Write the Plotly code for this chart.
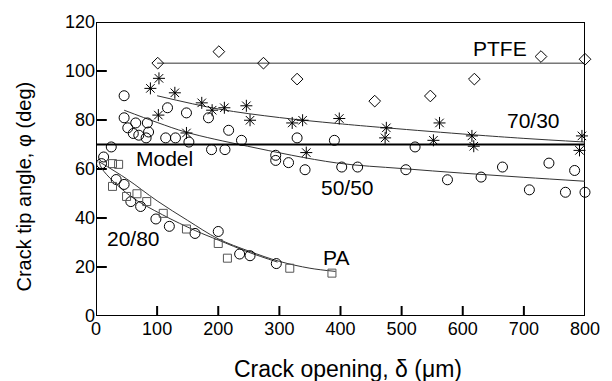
import plotly.graph_objects as go

# ---------------- data ----------------
ptfe_x = [101, 201, 274, 329, 456, 547, 619, 728, 800]
ptfe_y = [103.2, 107.9, 103.2, 96.7, 87.7, 89.8, 96.7, 105.9, 104.8]
ptfe_fit_x = [100, 800]
ptfe_fit_y = [103.2, 103.2]

r7030_x = [89, 103, 102, 129, 148, 173, 190, 210, 246, 252, 321, 338, 344, 398,
           475, 473, 562, 552, 615, 618, 795, 791]
r7030_y = [92.9, 97.0, 82.0, 91.1, 74.7, 87.0, 84.0, 85.0, 85.8, 79.9, 78.8, 79.9,
           66.7, 80.6, 76.8, 72.7, 78.8, 71.7, 73.5, 69.3, 73.5, 67.6]
r7030_fit_x = [100, 200, 300, 393, 475, 615, 700, 800]
r7030_fit_y = [89.9, 84.5, 81.0, 78.6, 76.8, 74.0, 72.5, 71.0]

r5050_x = [46, 25, 12.5, 46, 52, 65, 61, 70, 84, 86, 82, 117, 114, 130, 148, 152,
           184, 189, 211, 217, 238, 294, 294, 315, 342, 329, 390, 402, 428,
           522, 507, 575, 630, 665, 709, 741, 768, 783, 800]
r5050_y = [89.9, 69.0, 64.9, 80.9, 76.8, 78.8, 74.5, 73.8, 78.8, 75.1, 72.7, 85.0,
           72.7, 72.7, 82.9, 71.0, 80.9, 67.9, 67.9, 75.8, 71.7, 65.6, 63.5, 62.6,
           59.7, 72.7, 71.7, 60.8, 60.8, 69.0, 59.7, 55.6, 56.7, 60.8, 51.5, 62.4,
           50.5, 59.4, 50.5]
r5050_fit_x = [46, 100, 148, 248, 393, 500, 600, 700, 800]
r5050_fit_y = [84.0, 79.0, 75.0, 69.3, 62.5, 60.2, 58.3, 56.6, 55.0]

model_x = [0, 800]
model_y = [70, 70]

r2080_x = [9, 33, 46, 57, 73, 98, 120, 162, 200, 235, 252, 295]
r2080_y = [62.2, 55.7, 53.7, 46.7, 44.7, 39.6, 36.6, 33.7, 34.5, 25.3, 24.6, 21.4]
r2080_fit_x = [5, 10, 55, 109, 163, 200, 250, 297]
r2080_fit_y = [63.0, 60.0, 49.2, 41.3, 34.8, 31.0, 26.0, 22.0]

pa_x = [27, 37, 27, 50, 67, 83, 110, 148, 200, 215, 317, 386]
pa_y = [62.2, 61.9, 52.9, 48.8, 49.9, 46.7, 41.9, 35.5, 29.6, 23.6, 19.5, 17.5]
pa_fit_x = [5, 50, 100, 150, 200, 250, 300, 350, 392]
pa_fit_y = [63.0, 56.0, 47.0, 39.0, 31.5, 26.5, 22.3, 19.5, 18.2]

labels = ["PTFE", "70/30", "Model", "50/50", "20/80", "PA"]
label_x = [661, 716, 112, 411, 61, 393]
label_y = [109.0, 80.0, 64.2, 52.6, 31.8, 23.9]

x_range = [0, 800]
y_range = [0, 120]
x_ticks = [0, 100, 200, 300, 400, 500, 600, 700, 800]
y_ticks = [0, 20, 40, 60, 80, 100, 120]

# ---------------- figure ----------------
FONT = "Liberation Sans, Arial, Helvetica, sans-serif"
W, H = 612, 381
M = dict(l=96, r=18, t=22, b=65)
plot_w = W - M["l"] - M["r"]
plot_h = H - M["t"] - M["b"]

fig = go.Figure()

def fit(x, y, w=1.0, color="#333333", shape="spline"):
    fig.add_trace(go.Scatter(x=x, y=y, mode="lines", line=dict(color=color, width=w, shape=shape),
                             hoverinfo="skip", showlegend=False, cliponaxis=False))

def pts(x, y, symbol, size, color="black", lw=1.0):
    fig.add_trace(go.Scatter(x=x, y=y, mode="markers", showlegend=False, cliponaxis=False,
                             marker=dict(symbol=symbol, size=size, color=color,
                                         line=dict(color=color, width=lw))))

# frame and inside tick marks (drawn as lines through the axis scales)
x0, x1 = x_range
y0, y1 = y_range
fit([x0, x1, x1, x0, x0], [y0, y0, y1, y1, y0], w=2, color="black", shape="linear")
tick_dy = 10 / plot_h * (y1 - y0)
tick_dx = 11 / plot_w * (x1 - x0)
tx, ty = [], []
for v in x_ticks:
    tx += [v, v, None]
    ty += [y0, y0 + tick_dy, None]
for v in y_ticks:
    tx += [x0, x0 + tick_dx, None]
    ty += [v, v, None]
fit(tx, ty, w=2, color="black", shape="linear")

fit(ptfe_fit_x, ptfe_fit_y)
fit(r7030_fit_x, r7030_fit_y)
fit(r5050_fit_x, r5050_fit_y)
fit(r2080_fit_x, r2080_fit_y)
fit(pa_fit_x, pa_fit_y)
fit(model_x, model_y, w=2.0, color="black", shape="linear")

pts(ptfe_x, ptfe_y, "diamond-open", 9)
pts(r7030_x, r7030_y, "asterisk-open", 10)
pts(r5050_x, r5050_y, "circle-open", 10)
pts(r2080_x, r2080_y, "circle-open", 10)
pts(pa_x, pa_y, "square-open", 8, color="#555555")

for t, x, y in zip(labels, label_x, label_y):
    fig.add_annotation(x=x, y=y, xref="x", yref="y", text=t, showarrow=False,
                       font=dict(family=FONT, size=21, color="black"))

fig.add_annotation(x=0.515, y=-0.181, xref="paper", yref="paper",
                   text="Crack opening, δ (μm)", showarrow=False,
                   xanchor="center", yanchor="middle",
                   font=dict(family=FONT, size=23, color="black"))
fig.add_annotation(x=-0.1474, y=0.44, xref="paper", yref="paper",
                   text="Crack tip angle, φ (deg)", showarrow=False, textangle=-90,
                   xanchor="center", yanchor="middle",
                   font=dict(family=FONT, size=20, color="black"))

axis_common = dict(showgrid=False, zeroline=False, showline=False, ticks="",
                   tickfont=dict(family=FONT, size=18, color="black"))

fig.update_xaxes(range=x_range, tickmode="array", tickvals=x_ticks,
                 ticktext=[str(v) for v in x_ticks], **axis_common)
fig.update_yaxes(range=y_range, tickmode="array", tickvals=y_ticks,
                 ticktext=[str(v) for v in y_ticks], **axis_common)

fig.update_layout(width=W, height=H, margin=M,
                  paper_bgcolor="white", plot_bgcolor="white",
                  font=dict(family=FONT, color="black"))

fig.write_html("out.html")
